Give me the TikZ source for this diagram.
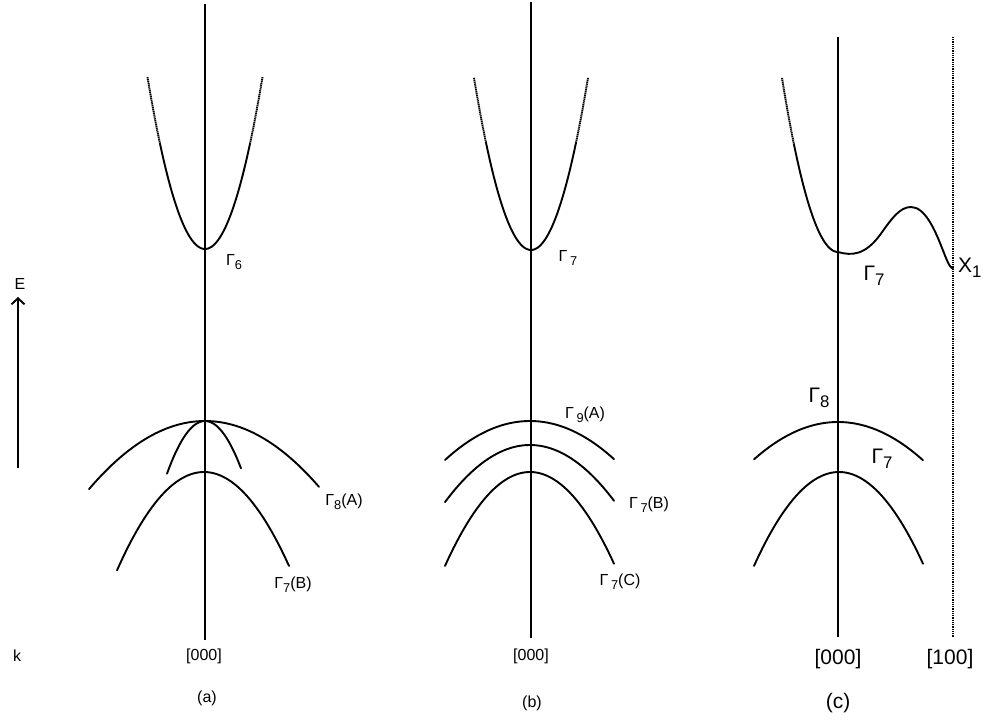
\documentclass[tikz,border=0pt]{standalone}
\usepackage{fontspec}
\setmainfont{Liberation Sans}
\usetikzlibrary{arrows.meta}
\newcommand{\lowsub}[1]{\raisebox{-0.45ex}{\fontsize{0.8em}{1em}\selectfont #1}}
\begin{document}
\begin{tikzpicture}[x=1pt,y=-1pt,
  band/.style={line width=1.9pt, line cap=round},
  faint/.style={line width=1.9pt, dash pattern=on 1.3pt off 0.6pt},
  axisline/.style={line width=1.9pt},
  smalllbl/.style={font=\fontsize{16}{18}\selectfont, inner sep=0pt},
  biglbl/.style={font=\fontsize{21}{23}\selectfont, inner sep=0pt}]
\useasboundingbox (0,0) rectangle (983,720);

% ---------- panel (a) ----------
\coordinate (atop) at (205,4);
\coordinate (abot) at (205,640);
\draw[axisline] (atop) -- (abot);
\draw[band] plot[domain=-45:45, samples=60] ({205+\x},{249-0.052*\x*\x});
\draw[faint] plot[domain=-57.5:-45, samples=15] ({205+\x},{249-0.052*\x*\x});
\draw[faint] plot[domain=45:57.5, samples=15] ({205+\x},{249-0.052*\x*\x});
\draw[band] plot[domain=-116:114, samples=60] ({205+\x},{421+0.00507*\x*\x});
\draw[band] plot[domain=-38:36, samples=40] ({205+\x},{421+0.0365*\x*\x});
\draw[band] plot[domain=-87:85, samples=60] ({204+\x},{472+0.013*\x*\x});
\node[smalllbl] (g6) at (234,262) {Γ\lowsub{6}};
\node[smalllbl] (g8a) at (344,502) {Γ\lowsub{8}(A)};
\node[smalllbl] (g7b) at (293,585) {Γ\lowsub{7}(B)};
\node[smalllbl] (ka) at (204,656) {[000]};
\node[smalllbl] (capa) at (207,698) {(a)};

% ---------- E axis ----------
\coordinate (ebase) at (18,468);
\coordinate (etip) at (18,297);
\draw[line width=1.9pt, -{Straight Barb[length=6pt,width=13pt,line width=1.9pt]}] (ebase) -- (etip);
\node[smalllbl] (elbl) at (20,284) {E};
\node[smalllbl] (klbl) at (17,656) {k};

% ---------- panel (b) ----------
\coordinate (btop) at (531,2);
\coordinate (bbot) at (531,638);
\draw[axisline] (btop) -- (bbot);
\draw[band] plot[domain=-45:45, samples=60] ({531+\x},{250-0.053*\x*\x});
\draw[faint] plot[domain=-57:-45, samples=15] ({531+\x},{250-0.053*\x*\x});
\draw[faint] plot[domain=45:57, samples=15] ({531+\x},{250-0.053*\x*\x});
\draw[band] plot[domain=-85:84, samples=60] ({530+\x},{421+0.0054*\x*\x});
\draw[band] plot[domain=-85:84, samples=60] ({530+\x},{445+0.0079*\x*\x});
\draw[band] plot[domain=-85:84, samples=60] ({530+\x},{472+0.013*\x*\x});
\node[smalllbl] (g7up) at (568,258) {Γ\,\lowsub{7}};
\node[smalllbl] (g9a) at (585,415) {Γ\,\lowsub{9}(A)};
\node[smalllbl] (g7bb) at (649,505) {Γ\,\lowsub{7}(B)};
\node[smalllbl] (g7c) at (620,582) {Γ\,\lowsub{7}(C)};
\node[smalllbl] (kb) at (531,656) {[000]};
\node[smalllbl] (capb) at (532,703) {(b)};

% ---------- panel (c) ----------
\coordinate (ctop) at (838,37);
\coordinate (cbot) at (838,637);
\draw[axisline] (ctop) -- (cbot);
\coordinate (xtop) at (953,37);
\coordinate (xbot) at (953,637);
\draw[line width=1.9pt, dash pattern=on 1pt off 0.8pt] (xtop) -- (xbot);
\draw[faint] plot[domain=-56:-44, samples=15] ({838+\x},{252-0.0555*\x*\x});
\draw[band] plot[domain=-44:0, samples=40] ({838+\x},{252-0.0555*\x*\x})
  .. controls (852,256) and (865,255) .. (880,235)
  .. controls (892,218) and (900,207) .. (911,207)
  .. controls (925,207) and (935,230) .. (942,248)
  .. controls (946,258) and (949,267) .. (953,269);
\draw[band] plot[domain=-84:85, samples=60] ({838+\x},{422+0.0053*\x*\x});
\draw[band] plot[domain=-85:84, samples=60] ({839+\x},{472+0.013*\x*\x});
\node[biglbl] (g7cup) at (874,276) {Γ\lowsub{7}};
\node[biglbl, anchor=west] (x1) at (958,268) {X\lowsub{1}};
\node[biglbl] (g8c) at (819,398) {Γ\lowsub{8}};
\node[biglbl] (g7clow) at (882,459) {Γ\lowsub{7}};
\node[biglbl] (kc) at (838,659) {[000]};
\node[biglbl] (kx) at (950,659) {[100]};
\node[biglbl] (capc) at (838,703) {(c)};
\end{tikzpicture}
\end{document}
